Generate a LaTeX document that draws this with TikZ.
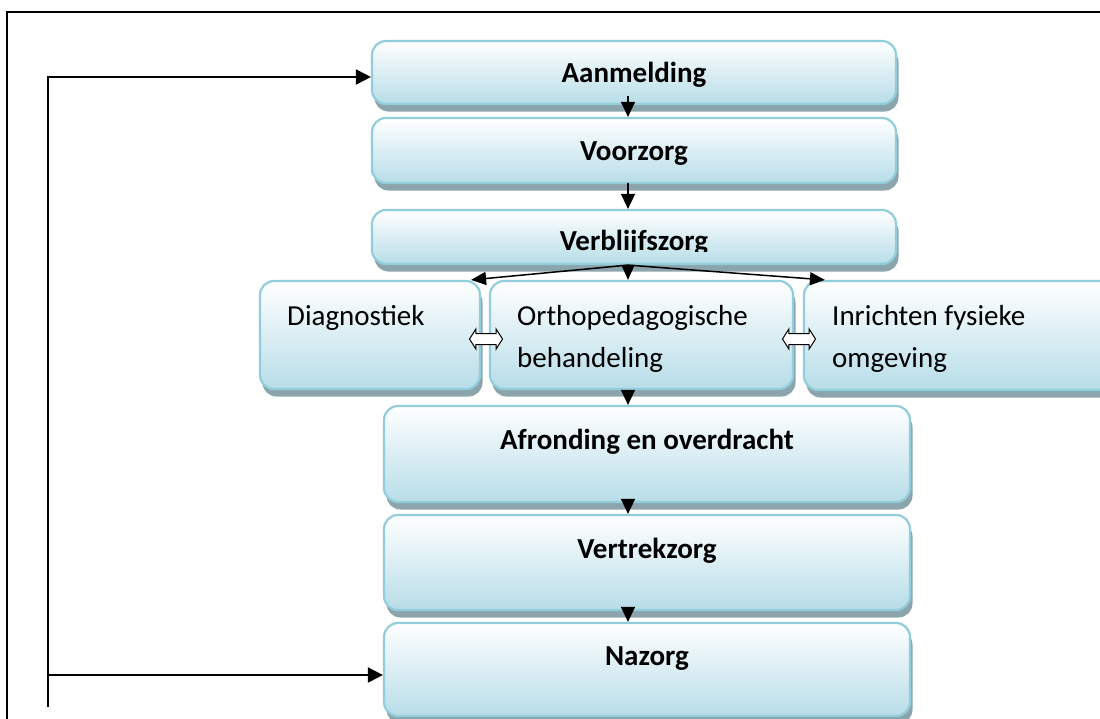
\documentclass[tikz,border=0pt]{standalone}
\usepackage{fontspec}
\setmainfont{Carlito}
\usetikzlibrary{arrows.meta,shapes.arrows,shadows,calc}
\definecolor{boxborder}{RGB}{146,205,220}
\definecolor{boxfill}{RGB}{183,221,232}
\definecolor{boxshadow}{RGB}{140,165,173}
\begin{document}
\begin{tikzpicture}[x=1pt,y=-1pt,
  box/.style={draw=boxborder, line width=2.2pt, rounded corners=14pt,
    top color=white, bottom color=boxfill, inner sep=0pt,
    drop shadow={shadow xshift=2.5pt, shadow yshift=-7.5pt, fill=boxshadow, opacity=1}},
  title/.style={font=\fontsize{29}{42}\selectfont\bfseries, anchor=base, inner sep=0pt},
  side/.style={font=\fontsize{29}{42}\selectfont, anchor=base west, align=left, inner sep=0pt},
  looparr/.style={line width=2pt, -{Triangle[length=15pt,width=15pt]}},
  arr/.style={line width=1.5pt, -{Triangle[length=15pt,width=14pt]}},
  fanarr/.style={line width=1.5pt, -{Triangle[length=15pt,width=13pt]}},
  dbl/.style={double arrow, draw=black, fill=white, line width=1pt,
    minimum height=33pt, double arrow head extend=4.5pt,
    double arrow tip angle=115, inner sep=0pt}
]
\useasboundingbox (0,0) rectangle (1100,718);
\fill[white] (0,0) rectangle (1100,718);

% outer frame
\draw[line width=2.6pt, line join=miter] (7,740) -- (7,12) -- (1120,12);

% boxes
\node[box, minimum width=524pt, minimum height=63pt] (A)  at (634,72.5) {};
\node[box, minimum width=524pt, minimum height=65pt] (V)  at (634,150.5) {};
\node[box, minimum width=524pt, minimum height=54pt] (Vb) at (634,237) {};
\node[box, minimum width=220pt, minimum height=108pt] (D) at (370,335) {};
\node[box, minimum width=303pt, minimum height=108pt] (O) at (641.5,335) {};
\node[box, minimum width=316pt, minimum height=109pt] (I) at (962,335.5) {};
\node[box, minimum width=526pt, minimum height=96pt] (Af) at (647,454) {};
\node[box, minimum width=526pt, minimum height=95pt] (Vt) at (647,562.5) {};
\node[box, minimum width=526pt, minimum height=93pt] (N)  at (647,669.5) {};

% texts
\node[title] (At) at (634,82) {Aanmelding};
\node[title] (Vtx) at (634,160) {Voorzorg};
\begin{scope}
  \clip (380,215) rectangle (890,251.5);
  \node[title] (Vbt) at (634,250) {Verblijfszorg};
\end{scope}
\node[side] (Dt) at (287,325) {Diagnostiek};
\node[side] (Ot) at (517,367) {Orthopedagogische\\behandeling};
\node[side] (It) at (832,367) {Inrichten fysieke\\omgeving};
\node[title] (Aft) at (647,449) {Afronding en overdracht};
\node[title] (Vtt) at (647,558) {Vertrekzorg};
\node[title] (Nt) at (647,665) {Nazorg};

% double arrows
\node[dbl] (DO) at (486,339) {\rule{0pt}{10pt}};
\node[dbl] (OI) at (799,339) {\rule{0pt}{10pt}};

% connectors
\coordinate (ax) at (628,0);
\coordinate (lb) at (48,707);
\coordinate (lt) at (48,77);
\coordinate (lm) at (48,675);
\draw[looparr] (lb) -- (lt) -- (lt -| A.west);
\draw[looparr] (lm) -- (lm -| N.west);

\draw[arr] ($(A.south -| ax)+(0,-9)$) -- (V.north -| ax);
\draw[arr] ($(V.south -| ax)+(0,-1)$) -- (Vb.north -| ax);
\draw[fanarr] (Vb.south -| ax) -- ($(D.north east)+(-10,0)$);
\draw[fanarr] (Vb.south -| ax) -- (O.north -| ax);
\draw[fanarr] (Vb.south -| ax) -- ($(I.north west)+(22,0)$);
\draw[arr] (O.south -| ax) -- (Af.north -| ax);
\draw[arr] ($(Af.south -| ax)+(0,-3)$) -- (Vt.north -| ax);
\draw[arr] ($(Vt.south -| ax)+(0,-3)$) -- (N.north -| ax);
\end{tikzpicture}
\end{document}
